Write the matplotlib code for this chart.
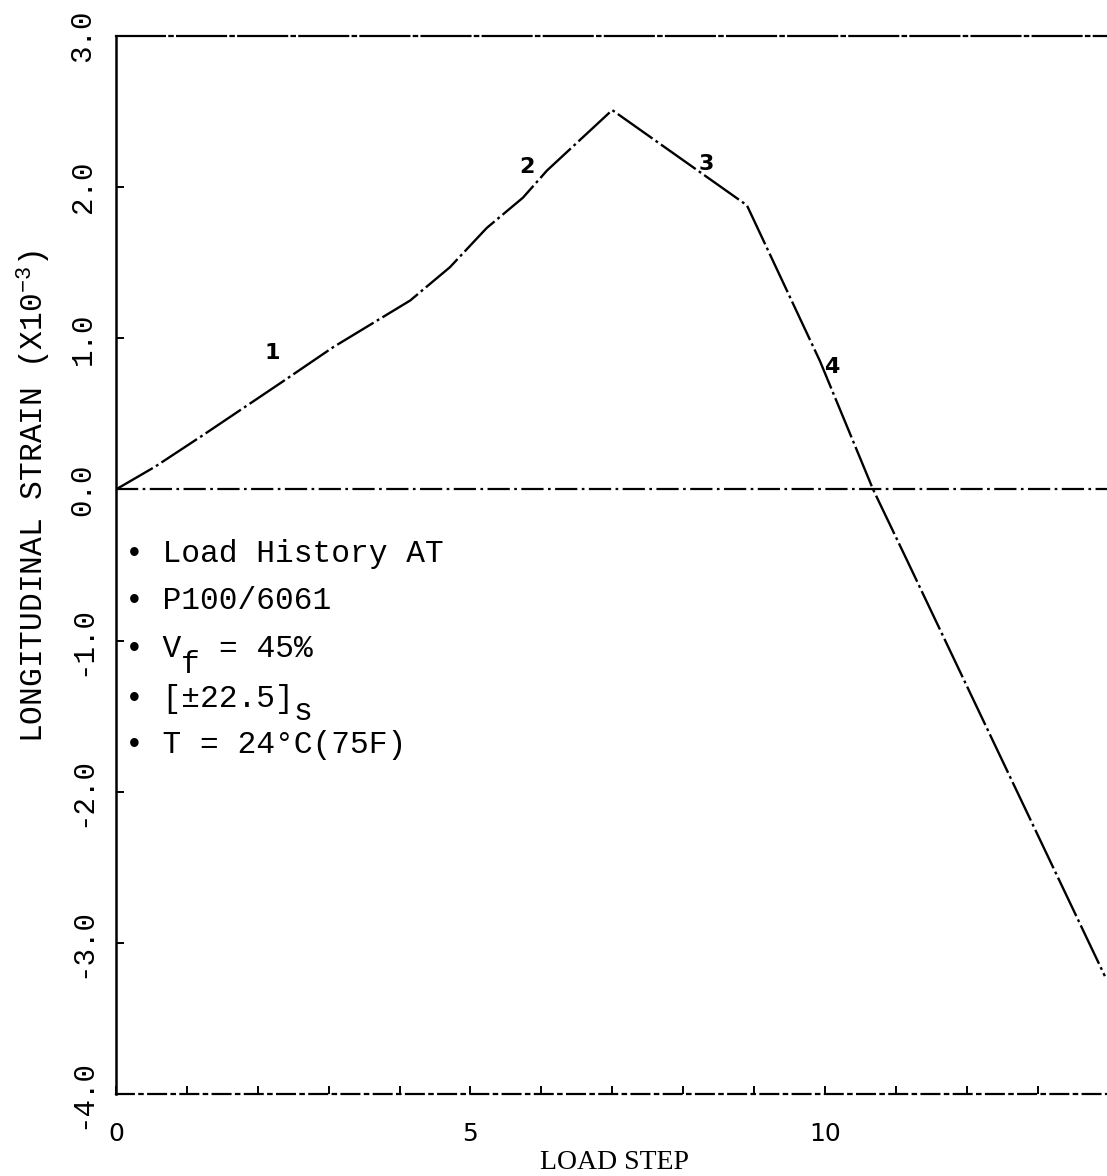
import numpy as np
import matplotlib
matplotlib.use("Agg")
import matplotlib.pyplot as plt

# load history curve (strain in units of 1e-3)
load_step = [0, 0.55, 1.23, 2.34, 3.06, 4.15, 4.71, 5.23, 5.74, 6.08, 7.0, 8.9, 9.37, 9.93, 10.68, 11.16, 13.95]
strain = [0, 0.15, 0.36, 0.71, 0.94, 1.25, 1.47, 1.73, 1.93, 2.11, 2.51, 1.88, 1.41, 0.85, 0.0, -0.47, -3.22]

# segment numbers written along the curve
seg_labels = ["1", "2", "3", "4"]
seg_x = [2.20, 5.80, 8.32, 10.10]
seg_y = [0.90, 2.13, 2.15, 0.81]

xticks_major = [0, 5, 10]
xticks_minor = list(range(1, 14))
yticks = [-4.0, -3.0, -2.0, -1.0, 0.0, 1.0, 2.0, 3.0]
ytick_labels = ["-4.0", "-3.0", "-2.0", "-1.0", "0.0", "1.0", "2.0", "3.0"]

W, H = 1107, 1176
mono = ["Liberation Mono", "DejaVu Sans Mono"]

fig = plt.figure(figsize=(W / 100, H / 100), dpi=100)
ax = fig.add_axes([116 / W, 1 - 1094 / H, (W - 116) / W, (1094 - 36) / H])
ax.set_xlim(0, 13.98)
ax.set_ylim(-4, 3)

ax.plot(load_step, strain, color="black", lw=1.7,
        linestyle=(0, (18, 1.6, 1.2, 1.6)), solid_capstyle="butt")
ax.axhline(0, color="black", lw=1.6, linestyle=(0, (10, 2, 1.2, 2)))

for lab, sx, sy in zip(seg_labels, seg_x, seg_y):
    ax.text(sx, sy, lab, ha="center", va="center", fontsize=16,
            fontweight="bold", family="DejaVu Sans")

# frame
ax.spines["right"].set_visible(False)
ax.spines["left"].set_linewidth(1.8)
ax.spines["left"].set_linestyle((0, (20, 1)))
ax.spines["top"].set_linewidth(1.6)
ax.spines["top"].set_linestyle((0, (22, 2, 1.5, 2)))
ax.spines["bottom"].set_linewidth(1.6)
ax.spines["bottom"].set_linestyle((0, (8, 2.5, 1.5, 2.5)))

ax.set_xticks(xticks_major)
ax.set_xticks(xticks_minor, minor=True)
ax.set_xticklabels([str(v) for v in xticks_major], fontsize=18, family="DejaVu Sans")
ax.set_yticks(yticks)
ax.set_yticklabels(ytick_labels, rotation=90, va="center", fontsize=21,
                   family=mono)
ax.tick_params(axis="x", which="both", direction="in", length=6, width=1.4, pad=20)
ax.tick_params(axis="y", direction="in", length=6, width=1.4, pad=14)

ax.set_xlabel("LOAD STEP", family="Liberation Serif", fontsize=20)
ax.xaxis.set_label_coords((615 - 116) / (W - 116), -(1150 - 1094) / (1094 - 36))

fig.text(34 / W, 1 - 497 / H, r"LONGITUDINAL STRAIN (X10$^{\mathregular{-3}}$)",
         rotation=90, ha="center", va="center", fontsize=22.5, family=mono)

# specimen notes, typewriter layout on a fixed character pitch
def px(x, y):
    return x / W, 1 - y / H

x0 = 125
pitch = 18.75
notes = [
    (0, 562, "• Load History AT"),
    (0, 609, "• P100/6061"),
    (0, 657, "• V"),
    (5, 657, "= 45%"),
    (3, 673, "f"),
    (0, 707, "• [±22.5]"),
    (9, 720, "s"),
    (0, 753, "• T = 24°C(75F)"),
]
for col, yb, s in notes:
    fig.text(*px(x0 + col * pitch, yb), s, fontsize=22.5, family=mono, va="baseline")

fig.savefig("out.png", dpi=100)
